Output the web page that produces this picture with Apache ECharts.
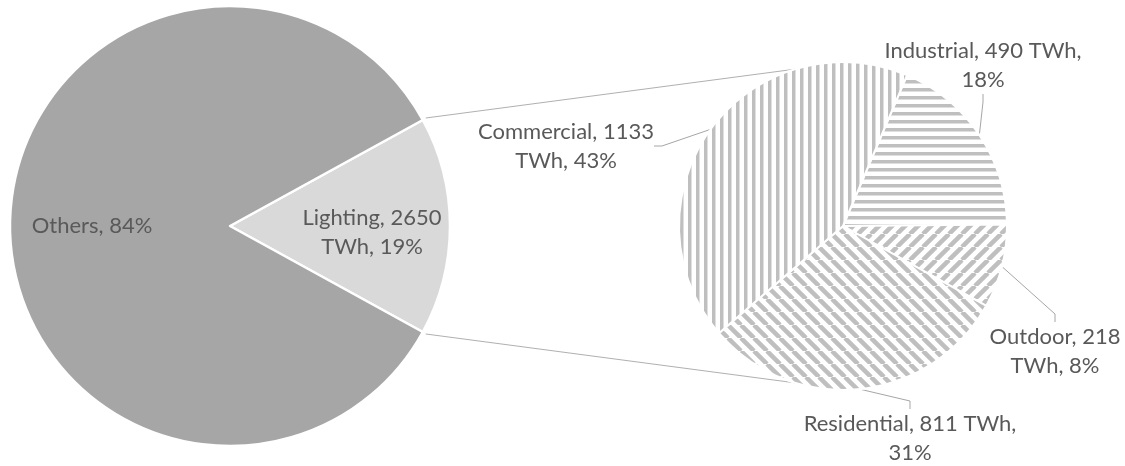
<!DOCTYPE html>
<html>
<head>
<meta charset="utf-8">
<script src="https://cdn.jsdelivr.net/npm/echarts@6/dist/echarts.min.js"></script>
<style>
html,body{margin:0;padding:0;background:#fff;}
#chart{width:1125px;height:466px;}
</style>
</head>
<body>
<div id="chart"></div>
<script>
// ---- data ----
var mainNames = ['Lighting', 'Others'];
var mainShares = [16, 84];
var mainTWh = [2650, null];
var mainPctLabels = [19, 84];         // percentages printed in labels
var subNames = ['Industrial', 'Outdoor', 'Residential', 'Commercial'];
var subTWh = [490, 218, 811, 1133];
var subPct = [18, 8, 31, 43];
var subWrapAfterTWh = [true, false, true, false];

// ---- layout / style ----
var LEFT = {cx: 230, cy: 226, r: 220};
var RIGHT = {cx: 843, cy: 226, r: 164};
var mainLabelPos = [[372, 232], [92, 226]];
var subLabelPos = [[983, 65], [1055, 351], [910, 438], [566, 146]];
var TEXT = '#595959';
var FONT = 'Lato';
var STRIPE = '#bfbfbf';

function makePattern(kind) {
  var c = document.createElement('canvas');
  var g = c.getContext('2d');
  if (kind === 'v' || kind === 'h') {
    c.width = 8; c.height = 8;
    g.fillStyle = '#fff'; g.fillRect(0, 0, 8, 8);
    g.fillStyle = STRIPE;
    if (kind === 'v') g.fillRect(0, 0, 3.5, 8); else g.fillRect(0, 0, 8, 3.5);
  } else {
    var s = 13;
    c.width = s; c.height = s;
    g.fillStyle = '#fff'; g.fillRect(0, 0, s, s);
    g.strokeStyle = STRIPE; g.lineWidth = 4.5;
    [-s, 0, s].forEach(function (o) {
      g.beginPath();
      if (kind === 'b') { g.moveTo(o, 0); g.lineTo(o + s, s); }
      else { g.moveTo(o, s); g.lineTo(o + s, 0); }
      g.stroke();
    });
  }
  return c;
}
var subPatterns = [makePattern('h'), makePattern('f'), makePattern('b'), makePattern('v')];

var mainLabels = mainNames.map(function (n, i) {
  return mainTWh[i] != null ? n + ', ' + mainTWh[i] + '\nTWh, ' + mainPctLabels[i] + '%' : n + ', ' + mainPctLabels[i] + '%';
});
var subLabels = subNames.map(function (n, i) {
  return subWrapAfterTWh[i]
    ? n + ', ' + subTWh[i] + ' TWh,\n' + subPct[i] + '%'
    : n + ', ' + subTWh[i] + '\nTWh, ' + subPct[i] + '%';
});

var lightFrac = mainShares[0] / (mainShares[0] + mainShares[1]);
var halfAng = lightFrac * 180; // degrees
var leftStart = halfAng;

function rad(d) { return d * Math.PI / 180; }
var topA = {x: LEFT.cx + LEFT.r * Math.cos(rad(halfAng)) + 3, y: LEFT.cy - LEFT.r * Math.sin(rad(halfAng)) - 2};
var botA = {x: LEFT.cx + LEFT.r * Math.cos(rad(halfAng)) + 3, y: LEFT.cy + LEFT.r * Math.sin(rad(halfAng)) + 2};
var tipAng = 17;
var topB = {x: RIGHT.cx - RIGHT.r * Math.sin(rad(tipAng)), y: RIGHT.cy - RIGHT.r * Math.cos(rad(tipAng))};
var botB = {x: RIGHT.cx - RIGHT.r * Math.sin(rad(tipAng)), y: RIGHT.cy + RIGHT.r * Math.cos(rad(tipAng))};

var labelBase = {color: TEXT, fontFamily: FONT, fontSize: 22, lineHeight: 29, align: 'center', overflow: 'none'};

var chart = echarts.init(document.getElementById('chart'), null, {renderer: 'canvas'});
chart.setOption({
  animation: false,
  backgroundColor: '#fff',
  graphic: [
    {type: 'line', z: 0, shape: {x1: topA.x, y1: topA.y, x2: topB.x, y2: topB.y}, style: {stroke: '#b0b0b0', lineWidth: 1}},
    {type: 'line', z: 0, shape: {x1: botA.x, y1: botA.y, x2: botB.x, y2: botB.y}, style: {stroke: '#b0b0b0', lineWidth: 1}}
  ],
  series: [
    {
      type: 'pie',
      center: [LEFT.cx, LEFT.cy],
      radius: LEFT.r,
      startAngle: leftStart,
      clockwise: true,
      silent: true,
      itemStyle: {borderColor: '#fff', borderWidth: 2.5},
      data: mainNames.map(function (n, i) {
        return {name: n, value: mainShares[i], itemStyle: {color: i === 0 ? '#d9d9d9' : '#a6a6a6'}};
      }),
      label: Object.assign({show: true, position: 'inside', formatter: function (p) { return mainLabels[p.dataIndex]; }}, labelBase),
      labelLine: {show: false},
      labelLayout: function (p) {
        var q = mainLabelPos[p.dataIndex];
        return {x: q[0], y: q[1], align: 'center', verticalAlign: 'middle'};
      }
    },
    {
      type: 'pie',
      center: [RIGHT.cx, RIGHT.cy],
      radius: RIGHT.r,
      startAngle: 67,
      clockwise: true,
      silent: true,
      itemStyle: {borderColor: '#fff', borderWidth: 2},
      data: subNames.map(function (n, i) {
        return {name: n, value: subTWh[i], itemStyle: {color: {image: subPatterns[i], repeat: 'repeat'}}};
      }),
      label: Object.assign({show: true, position: 'outside', edgeDistance: 0, bleedMargin: 0, formatter: function (p) { return subLabels[p.dataIndex]; }}, labelBase),
      labelLine: {show: true, length: 8, length2: 8, lineStyle: {color: '#a6a6a6', width: 1}},
      labelLayout: function (p) {
        var q = subLabelPos[p.dataIndex];
        return {x: q[0], y: q[1], align: 'center', verticalAlign: 'middle'};
      }
    }
  ]
});
</script>
</body>
</html>
